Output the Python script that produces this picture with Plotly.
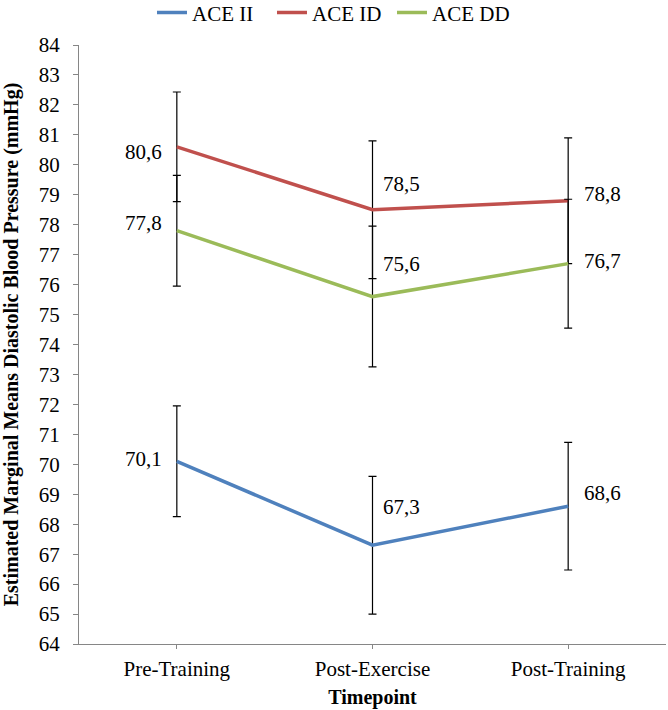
import plotly.graph_objects as go

timepoints = ["Pre-Training", "Post-Exercise", "Post-Training"]
series_names = ["ACE II", "ACE ID", "ACE DD"]
ace_ii = [70.1, 67.3, 68.6]
ace_id = [80.6, 78.5, 78.8]
ace_dd = [77.8, 75.6, 76.7]
err_ii = [1.85, 2.3, 2.13]
err_id = [1.83, 2.3, 2.1]
err_dd = [1.85, 2.35, 2.15]
y_ticks = list(range(64, 85))

colors = ["#4F81BD", "#C0504D", "#9BBB59"]
values = [ace_ii, ace_id, ace_dd]
errors = [err_ii, err_id, err_dd]

# label placement per point: (xanchor, xshift, yshift)
label_style = {
    "ACE II": [("right", -13, 2), ("left", 8, 38), ("left", 14, 13)],
    "ACE ID": [("right", -13, -5), ("left", 8, 26), ("left", 14, 7)],
    "ACE DD": [("right", -13, 8), ("left", 8, 33), ("left", 14, 3)],
}

FONT = "Liberation Serif, Times New Roman, Times, serif"
FS = 21

fig = go.Figure()
for name, vals, errs, col in zip(series_names, values, errors, colors):
    fig.add_trace(go.Scatter(
        x=timepoints, y=vals, name=name, mode="lines",
        line=dict(color=col, width=3.5),
        error_y=dict(type="data", array=errs, visible=True,
                     color="#000000", thickness=1.2, width=4),
    ))

for name, vals in zip(series_names, values):
    for i, (tp, v) in enumerate(zip(timepoints, vals)):
        anchor, xs, ys = label_style[name][i]
        fig.add_annotation(
            x=tp, y=v, text=f"{v:.1f}".replace(".", ","),
            showarrow=False, xanchor=anchor, yanchor="middle",
            xshift=xs, yshift=ys,
            font=dict(family=FONT, size=FS, color="#000000"),
        )

fig.update_layout(
    width=668, height=710,
    margin=dict(l=79, r=2, t=45, b=66, autoexpand=False),
    paper_bgcolor="white", plot_bgcolor="white",
    font=dict(family=FONT, size=FS, color="#000000"),
    legend=dict(orientation="h", xref="container", x=0.497, xanchor="center",
                yref="container", y=0.982, yanchor="middle",
                font=dict(family=FONT, size=FS, color="#000000"),
                itemwidth=30, tracegroupgap=0, traceorder="normal",
                entrywidth=75, entrywidthmode="pixels",
                bgcolor="rgba(0,0,0,0)"),
    showlegend=True,
)

fig.update_xaxes(
    type="category", range=[-0.5, 2.5], automargin=False,
    showline=True, linecolor="#868686", linewidth=1,
    ticks="outside", ticklen=4, tickcolor="#868686",
    showgrid=False, zeroline=False,
    title=dict(text="<b>Timepoint</b>", font=dict(family=FONT, size=20), standoff=9),
    tickfont=dict(family=FONT, size=FS), ticklabelstandoff=2,
)
fig.update_yaxes(
    range=[64, 84], tickvals=y_ticks, automargin=False,
    showline=True, linecolor="#868686", linewidth=1,
    ticks="outside", ticklen=5, tickcolor="#868686",
    showgrid=False, zeroline=False,
    title=dict(text="<b>Estimated Marginal Means Diastolic Blood Pressure (mmHg)</b>",
               font=dict(family=FONT, size=20), standoff=14),
    tickfont=dict(family=FONT, size=FS), ticklabelstandoff=9,
)

fig.write_html("out.html", config={"displayModeBar": False},
               post_script="document.body.style.margin='0';")
